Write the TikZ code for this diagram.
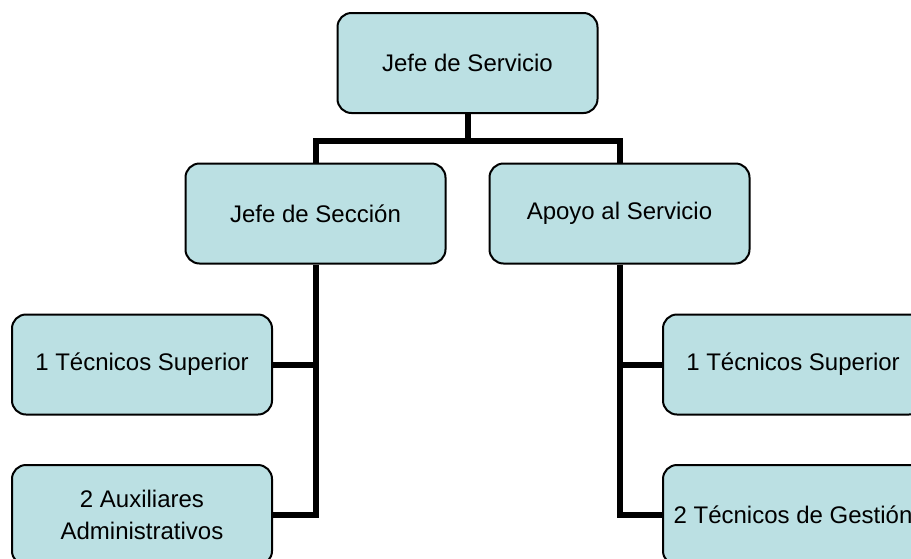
\documentclass[tikz,border=0pt]{standalone}
\usepackage{fontspec}
\setmainfont{Liberation Sans}
\usepackage{tikz}
\usetikzlibrary{shapes,calc,positioning,arrows}
\definecolor{boxfill}{RGB}{187,224,227}

\begin{document}
\begin{tikzpicture}[x=0.5pt,y=-0.5pt,node distance=75.25pt,
    box/.style={draw,fill=boxfill,line width=1pt,rounded corners=7pt,minimum width=130pt,minimum height=50pt,inner sep=0pt,align=center,font=\fontsize{12pt}{16pt}\selectfont},
    conn/.style={line width=3pt,line join=miter}]
    \useasboundingbox (0,0) rectangle (911,558);
    \node[box] (serv) at (467.5,63) {Jefe de Servicio};
    \node[box] (secc) at (315.5,213.5) {Jefe de Secci\'on};
    \node[box] (apoyo) at (619.5,213.5) {Apoyo al Servicio};
    \node[box] (secc_t1) at (142,364.5) {1 Técnicos Superior};
    \node[box,below of=secc_t1] (secc_t2) {2 Auxiliares\\Administrativos};
    \node[box] (apoyo_t1) at (793,364.5) {1 Técnicos Superior};
    \node[box,below of=apoyo_t1] (apoyo_t2) {2 Técnicos de Gestión};
    \coordinate (bar) at ($(serv.south)+(0,27)$);
    %

    \draw[conn] (serv.south) -- (bar);
    \draw[conn] (secc.north) |- (bar) -| (apoyo.north);
    \draw[conn] (secc.south) |- (secc_t2.east);
    \draw[conn] (secc_t1.east) -- (secc_t1.east -| secc.south);
    \draw[conn] (apoyo.south) |- (apoyo_t2.west);
    \draw[conn] (apoyo_t1.west) -- (apoyo_t1.west -| apoyo.south);
\end{tikzpicture}
\end{document}
